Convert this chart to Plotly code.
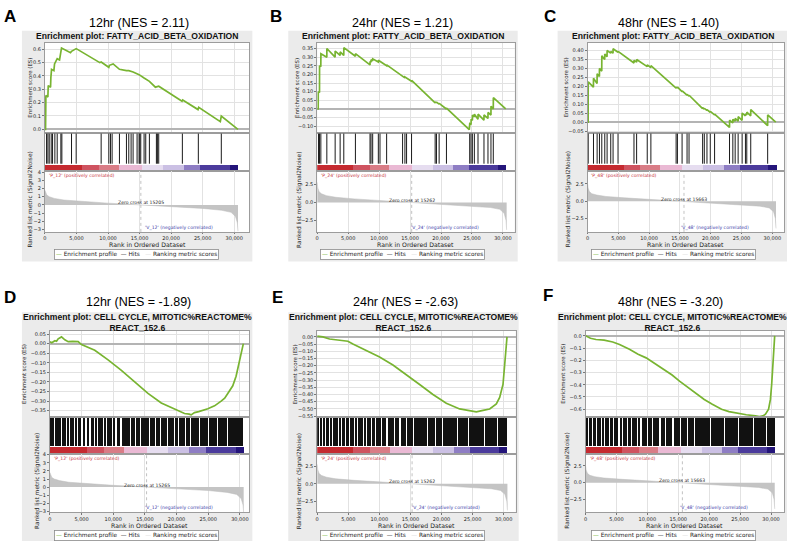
import plotly.graph_objects as go

W, H = 793, 546

# ------------------------------------------------------------------ data
panel_letters = ["A", "B", "C", "D", "E", "F"]
panel_titles = ["12hr (NES = 2.11)", "24hr (NES = 1.21)", "48hr (NES = 1.40)",
                "12hr (NES = -1.89)", "24hr (NES = -2.63)", "48hr (NES = -3.20)"]
plot_titles = ["Enrichment plot: FATTY_ACID_BETA_OXIDATION"] * 3 + \
              ["Enrichment plot: CELL CYCLE, MITOTIC%REACTOME%<br>REACT_152.6"] * 3
phenotypes = ["12", "24", "48", "12", "24", "48"]
zero_cross = [15205, 15262, 15663, 15265, 15262, 15663]

# running enrichment score (rank, ES)
es_A = [(0, 0), (105, 0.0), (158, 0.254), (475, 0.242), (527, 0.328), (897, 0.316), (949, 0.39),
        (1055, 0.45), (1424, 0.44), (1529, 0.49), (1951, 0.53), (2320, 0.52), (2637, 0.61),
        (4061, 0.575), (4219, 0.585), (4958, 0.605), (8702, 0.50), (8913, 0.505), (10126, 0.465),
        (10232, 0.48), (10812, 0.49), (11814, 0.45), (12921, 0.44), (13290, 0.44), (13976, 0.43),
        (14925, 0.41), (15717, 0.385), (16560, 0.36), (17510, 0.316), (18037, 0.323),
        (21729, 0.21), (21834, 0.22), (24260, 0.148), (24366, 0.165), (27794, 0.058),
        (27952, 0.10), (30589, 0.0)]
es_B = [(0, 0), (160, 0.0), (170, 0.10), (370, 0.095), (380, 0.25), (580, 0.245), (600, 0.32),
        (1550, 0.30), (1560, 0.35), (2890, 0.30), (2900, 0.335), (3700, 0.31), (3710, 0.33),
        (4290, 0.31), (4300, 0.355), (6170, 0.305), (6180, 0.32), (8530, 0.255), (8540, 0.275),
        (8690, 0.27), (8700, 0.285), (8960, 0.278), (8970, 0.29), (9870, 0.272), (9880, 0.282),
        (10140, 0.275), (10150, 0.28), (11210, 0.25), (11220, 0.255), (13790, 0.185),
        (13800, 0.19), (14160, 0.18), (14170, 0.185), (14430, 0.178), (14440, 0.182),
        (15240, 0.16), (15250, 0.165), (19050, 0.035), (19060, 0.04), (19260, 0.035),
        (19270, 0.04), (19690, 0.028), (19700, 0.032), (20870, 0.0), (20880, 0.005),
        (24560, -0.12), (24640, -0.085), (24850, -0.09), (24860, -0.06), (25070, -0.065),
        (25080, -0.035), (25380, -0.045), (25390, -0.03), (25970, -0.06), (25980, -0.03),
        (26930, -0.065), (26940, -0.035), (27580, -0.055), (27590, -0.02), (28060, -0.035),
        (28070, 0.015), (28440, 0.0), (28450, 0.065), (30450, 0.0)]
es_C = [(0, 0), (100, 0.0), (110, 0.225), (960, 0.195), (970, 0.245), (1550, 0.215), (1560, 0.27),
        (1930, 0.255), (1940, 0.30), (2310, 0.285), (2320, 0.37), (2790, 0.35), (2800, 0.38),
        (3170, 0.365), (3180, 0.40), (3760, 0.385), (3770, 0.395), (4140, 0.385), (4150, 0.41),
        (4950, 0.39), (4960, 0.395), (7540, 0.33), (7550, 0.345), (7970, 0.335), (7980, 0.35),
        (9690, 0.31), (9700, 0.32), (10280, 0.305), (10290, 0.315), (14380, 0.19),
        (14390, 0.195), (14590, 0.19), (14600, 0.195), (15350, 0.17), (15360, 0.175),
        (16150, 0.15), (16160, 0.155), (16480, 0.145), (16490, 0.15), (18680, 0.075),
        (18690, 0.08), (18950, 0.072), (18960, 0.077), (19380, 0.065), (19390, 0.07),
        (19920, 0.055), (19930, 0.06), (20620, 0.04), (20630, 0.045), (23050, -0.03),
        (23060, 0.01), (23590, -0.005), (23600, 0.015), (23960, 0.005), (23970, 0.02),
        (24450, 0.005), (24460, 0.03), (25090, 0.01), (25100, 0.05), (25630, 0.035),
        (25640, 0.045), (25850, 0.04), (25860, 0.055), (26490, 0.035), (26500, 0.07),
        (29240, -0.02), (29250, 0.04), (30560, 0.0)]
es_D = [(0, 0.01), (300, 0.005), (790, 0.015), (1050, 0.012), (1310, 0.025), (1840, 0.035),
        (2360, 0.02), (2890, 0.01), (3600, 0.012), (4460, 0.01), (4990, -0.005), (7090, -0.035),
        (9190, -0.085), (11290, -0.14), (13390, -0.20), (15490, -0.26), (17590, -0.31),
        (19690, -0.34), (21260, -0.365), (22000, -0.368), (22310, -0.372), (22840, -0.36),
        (23500, -0.355), (24940, -0.34), (26000, -0.325), (27040, -0.30), (27600, -0.285),
        (28090, -0.26), (28880, -0.22), (29400, -0.17), (29900, -0.09), (30300, -0.03),
        (30550, 0.0)]
es_E = [(0, 0.005), (912, 0.0), (1985, -0.015), (3059, -0.02), (4132, -0.03), (4937, -0.03),
        (5742, -0.05), (7888, -0.095), (10034, -0.14), (12181, -0.195), (14327, -0.26),
        (16474, -0.33), (18620, -0.40), (20766, -0.46), (22913, -0.50), (24523, -0.515),
        (25596, -0.52), (26669, -0.51), (27742, -0.50), (28815, -0.465), (29352, -0.42),
        (29888, -0.33), (30157, -0.22), (30318, -0.11), (30533, 0.0)]
es_F = [(0, 0.0), (800, -0.02), (1700, -0.03), (3000, -0.035), (4400, -0.05), (5500, -0.07),
        (7100, -0.11), (8500, -0.15), (9800, -0.18), (11000, -0.22), (12500, -0.27),
        (14000, -0.32), (15200, -0.37), (16500, -0.42), (17800, -0.47), (19200, -0.52),
        (20500, -0.56), (22000, -0.60), (23200, -0.62), (24600, -0.635), (26000, -0.645),
        (27500, -0.655), (28100, -0.66), (28700, -0.655), (29100, -0.64), (29600, -0.60),
        (29900, -0.52), (30100, -0.40), (30300, -0.25), (30450, -0.10), (30590, 0.0)]

# gene-set hits (ranks) for the small sets
hits_A = [264, 475, 686, 1002, 1213, 1582, 1951, 2532, 2690, 4219, 4958, 8913, 10126, 10390,
          10653, 11814, 12921, 13290, 13660, 13976, 14609, 14925, 15031, 15189, 15717, 15980,
          16560, 17668, 17826, 18037, 21782, 24313, 27952]
hits_B = [215, 376, 590, 1556, 2897, 3703, 4293, 6171, 8532, 8693, 8961, 9873, 10141, 11215,
          13791, 14166, 14435, 15240, 19049, 19264, 19694, 20874, 24630, 24845, 25060, 25382,
          25972, 26938, 27582, 28065, 28441]
hits_C = [108, 970, 1562, 1939, 2316, 2801, 3178, 3770, 4147, 4955, 7540, 7971, 9695, 10287,
          14381, 14596, 15350, 16158, 16481, 18689, 18959, 19390, 19928, 20628, 23052, 23591,
          23968, 24452, 25099, 25638, 25853, 26499, 29246]
# dense hit blocks (start, end) for the large cell-cycle set
hits_D = [(0, 200), (450, 650), (850, 1350), (1550, 1650), (1950, 2450), (2750, 2850),
          (3150, 3750), (4050, 4150), (4450, 4950), (5350, 5500), (5850, 6150), (6450, 6950),
          (7250, 7350), (7650, 8350), (8650, 8750), (9050, 9750), (10050, 10250), (10550, 11050),
          (11300, 12700), (12850, 13450), (13600, 14250), (14400, 15650), (15850, 16550),
          (16700, 17350), (17500, 18450), (18600, 19550), (19700, 20250), (20400, 21350),
          (21500, 22150), (22300, 23550), (23700, 25000), (25100, 26350), (26450, 28000),
          (28100, 29450), (29550, 30550)]
hits_E = [(0, 250), (450, 850), (1000, 1200), (1450, 1950), (2200, 2400), (2650, 3350),
          (3600, 3750), (4050, 4550), (4800, 5100), (5350, 5950), (6200, 6350), (6650, 7350),
          (7600, 7750), (8050, 8750), (9000, 9300), (9550, 10250), (10450, 11150), (11350, 12350),
          (12550, 13250), (13450, 14350), (14500, 15450), (15650, 16650), (16800, 17650),
          (17800, 18950), (19100, 20050), (20200, 22450), (22600, 24350), (24500, 26850),
          (27000, 28950), (29100, 30550)]
hits_F = [(0, 300), (550, 900), (1150, 1550), (1800, 2350), (2600, 2800), (3050, 3750),
          (4000, 4300), (4550, 5250), (5500, 5700), (5950, 6650), (6900, 7200), (7450, 8250),
          (8500, 8800), (9050, 9850), (10050, 10650), (10850, 11850), (12050, 12750),
          (12950, 13950), (14150, 15150), (15350, 16350), (16550, 17450), (17650, 18850),
          (19000, 20050), (20250, 22250), (22400, 24550), (24700, 26950), (27100, 29050),
          (29200, 30600)]

# ranked list metric (rank, signal2noise)
metric_12 = [(0, 1.8), (100, 1.5), (300, 1.2), (700, 1.0), (1500, 0.8), (3000, 0.6), (6000, 0.4),
             (10000, 0.22), (15205, 0.0), (20000, -0.2), (25000, -0.42), (28000, -0.65),
             (29500, -0.9), (30200, -1.4), (30500, -2.2), (30600, -3.2)]
metric_24 = [(0, 2.8), (100, 2.0), (300, 1.5), (700, 1.2), (1500, 0.95), (3000, 0.72), (6000, 0.5),
             (10000, 0.3), (15262, 0.0), (20000, -0.25), (25000, -0.5), (28000, -0.7),
             (29500, -0.95), (30200, -1.5), (30500, -2.5), (30600, -3.8)]
metric_48 = [(0, 2.6), (100, 1.9), (300, 1.4), (700, 1.1), (1500, 0.9), (3000, 0.7), (6000, 0.5),
             (10000, 0.3), (15663, 0.0), (20000, -0.25), (25000, -0.5), (28000, -0.7),
             (29500, -0.95), (30200, -1.5), (30500, -2.5), (30600, -3.9)]

# colour bar of the ranked list
cb_edges = [0, 5800, 8500, 11700, 15300, 18700, 22000, 24600, 29300, 30600]
cb_colors = ["#c52a30", "#cf5360", "#d97c86", "#eab9d4", "#e6ddf0", "#cbc0e4", "#8e7dc4",
             "#4b3b9c", "#24157a"]

x_tick_vals = [0, 5000, 10000, 15000, 20000, 25000, 30000]
x_tick_text = ["0", "5,000", "10,000", "15,000", "20,000", "25,000", "30,000"]
es_ticks = [[0.0, 0.1, 0.2, 0.3, 0.4, 0.5, 0.6],
            [-0.10, -0.05, 0.0, 0.05, 0.10, 0.15, 0.20, 0.25, 0.30, 0.35],
            [-0.05, 0.0, 0.05, 0.10, 0.15, 0.20, 0.25, 0.30, 0.35, 0.40],
            [-0.35, -0.30, -0.25, -0.20, -0.15, -0.10, -0.05, 0.0, 0.05],
            [-0.55, -0.50, -0.45, -0.40, -0.35, -0.30, -0.25, -0.20, -0.15, -0.10, -0.05, 0.0],
            [-0.6, -0.5, -0.4, -0.3, -0.2, -0.1, 0.0]]
es_fmt = [".1f", ".2f", ".2f", ".2f", ".2f", ".1f"]
metric_ticks_int = [-3, -2, -1, 0, 1, 2, 3, 4]
metric_ticks_half = [-2.5, 0.0, 2.5]

# ------------------------------------------------------------------ layout geometry (px)
TOP = dict(by0=28, by1=261, es=(40, 131), hits=(131, 170), met=(170, 231), leg=254, xl=244)
BOT = dict(by0=312, by1=543, es=(331, 418), hits=(418, 455), met=(455, 514), leg=537, xl=527)
panels = [
    dict(row=TOP, bx=(20, 251), px=(43, 248), xmax=32400, es_rng=(-0.026, 0.65),
         met_rng=(-3.28, 4.08), letter=(8, 14), title=(137, 20.5), ptitle=(135.5, 33.5),
         es_t=28, met_t=29, leg_x=134.5),
    dict(row=TOP, bx=(287, 517), px=(316, 514), xmax=31900, es_rng=(-0.138, 0.384),
         met_rng=(-4.07, 4.3), letter=(275, 14), title=(402, 20.5), ptitle=(402.5, 33.5),
         es_t=295, met_t=298, leg_x=402),
    dict(row=TOP, bx=(557, 787), px=(587, 784), xmax=31900, es_rng=(-0.06, 0.444),
         met_rng=(-4.4, 4.3), letter=(549, 14), title=(668, 20.5), ptitle=(672.5, 33.5),
         es_t=565, met_t=568, leg_x=673),
    dict(row=BOT, bx=(20, 251), px=(48, 248), xmax=31500, es_rng=(-0.384, 0.066),
         met_rng=(-3.1, 4.1), letter=(8, 297), title=(137, 301.5), ptitle=(135.5, 322),
         es_t=22, met_t=35, leg_x=134.5),
    dict(row=BOT, bx=(287, 518), px=(316, 515), xmax=31930, es_rng=(-0.557, 0.041),
         met_rng=(-4.07, 4.3), letter=(276, 297), title=(405, 301.5), ptitle=(402.5, 322),
         es_t=294, met_t=298, leg_x=402),
    dict(row=BOT, bx=(557, 787), px=(585, 784), xmax=32100, es_rng=(-0.665, 0.04),
         met_rng=(-4.4, 4.3), letter=(547, 295), title=(670, 301.5), ptitle=(672.5, 322),
         es_t=562, met_t=567, leg_x=673),
]

es_data = [es_A, es_B, es_C, es_D, es_E, es_F]
hit_lines = [hits_A, hits_B, hits_C, None, None, None]
hit_blocks = [None, None, None, hits_D, hits_E, hits_F]
metric_data = [metric_12, metric_24, metric_48, metric_12, metric_24, metric_48]

GREEN = "#78b431"
FONT_IN = "DejaVu Sans"
FONT_T = "Liberation Sans"
GRID = "#e2e2e2"
BORDER = "#9c9c9c"


def fx(p):
    return p / W


def fy(p):
    return 1 - p / H


fig = go.Figure()
layout = dict(width=W, height=H, margin=dict(l=0, r=0, t=0, b=0), autosize=False,
              paper_bgcolor="white", plot_bgcolor="rgba(0,0,0,0)", showlegend=False,
              barmode="overlay", bargap=0)
shapes, annotations = [], []

for i, p in enumerate(panels):
    row = p["row"]
    # gray panel background
    shapes.append(dict(type="rect", xref="paper", yref="paper", layer="below",
                       x0=fx(p["bx"][0]), x1=fx(p["bx"][1]), y0=fy(row["by1"]), y1=fy(row["by0"]),
                       fillcolor="#ebebeb", line=dict(width=0)))
    ids = [i * 3 + k + 1 for k in range(3)]
    names = [("x" if n == 1 else f"x{n}", "y" if n == 1 else f"y{n}") for n in ids]
    bands = [row["es"], row["hits"], row["met"]]
    for k, (xa, ya) in enumerate(names):
        xkey = "xaxis" if xa == "x" else "xaxis" + xa[1:]
        ykey = "yaxis" if ya == "y" else "yaxis" + ya[1:]
        y0, y1 = bands[k]
        shapes.append(dict(type="rect", xref=f"{xa} domain", yref=f"{ya} domain", layer="below",
                           x0=0, x1=1, y0=0, y1=1, fillcolor="white", line=dict(width=0)))
        xd = dict(domain=[fx(p["px"][0]), fx(p["px"][1])], anchor=ya, range=[0, p["xmax"]],
                  showline=True, mirror=True, linecolor=BORDER, linewidth=0.8, zeroline=False,
                  showgrid=(k != 1), gridcolor=GRID, gridwidth=0.6, tickvals=x_tick_vals,
                  ticktext=x_tick_text, showticklabels=(k == 2), ticks="outside" if k == 2 else "",
                  ticklen=1.5, tickcolor="#777", tickfont=dict(family=FONT_IN, size=5, color="#222"))
        yd = dict(domain=[fy(y1), fy(y0)], anchor=xa, showline=True, mirror=True,
                  linecolor=BORDER, linewidth=0.8, tickfont=dict(family=FONT_IN, size=5, color="#222"),
                  ticks="outside", ticklen=2, tickcolor="#777")
        if k == 0:
            yd.update(range=list(p["es_rng"]), tickvals=es_ticks[i], tickformat=es_fmt[i],
                      showgrid=True, gridcolor=GRID, gridwidth=0.6, zeroline=True,
                      zerolinecolor="#b4b4b4", zerolinewidth=1.8)
        elif k == 1:
            yd.update(range=[0, 1], showticklabels=False, ticks="", showgrid=False, zeroline=False)
        else:
            mt = metric_ticks_int if i in (0, 3) else metric_ticks_half
            yd.update(range=list(p["met_rng"]), tickvals=mt,
                      tickformat="d" if i in (0, 3) else ".1f", showgrid=False, zeroline=False)
        layout[xkey] = xd
        layout[ykey] = yd

    (xa0, ya0), (xa1, ya1), (xa2, ya2) = names
    # ES curve
    er = [a for a, b in es_data[i]]
    ev = [b for a, b in es_data[i]]
    fig.add_trace(go.Scatter(x=er, y=ev, mode="lines", line=dict(color=GREEN, width=1.7),
                             xaxis=xa0, yaxis=ya0, hoverinfo="skip"))
    # colour bar
    mids = [(cb_edges[j] + cb_edges[j + 1]) / 2 for j in range(len(cb_colors))]
    wids = [cb_edges[j + 1] - cb_edges[j] for j in range(len(cb_colors))]
    cbh = 0.18 if row is TOP else 0.19
    fig.add_trace(go.Bar(x=mids, y=[cbh] * len(mids), width=wids, base=[0] * len(mids),
                         marker=dict(color=cb_colors, line=dict(width=0)),
                         xaxis=xa1, yaxis=ya1, hoverinfo="skip"))
    # hits
    if hit_lines[i] is not None:
        hx, hy = [], []
        for h in hit_lines[i]:
            hx += [h, h, None]
            hy += [cbh + 0.02, 0.98, None]
        fig.add_trace(go.Scatter(x=hx, y=hy, mode="lines", line=dict(color="#1a1a1a", width=1),
                                 xaxis=xa1, yaxis=ya1, hoverinfo="skip"))
    else:
        bl = hit_blocks[i]
        fig.add_trace(go.Bar(x=[(s + e) / 2 for s, e in bl], width=[e - s for s, e in bl],
                             y=[0.98 - cbh - 0.02] * len(bl), base=[cbh + 0.02] * len(bl),
                             marker=dict(color="#111111", line=dict(width=0)),
                             xaxis=xa1, yaxis=ya1, hoverinfo="skip"))
    # ranked list metric
    mr = [a for a, b in metric_data[i]]
    mv = [b for a, b in metric_data[i]]
    fig.add_trace(go.Scatter(x=mr, y=mv, mode="lines", fill="tozeroy", fillcolor="#c4c4c4",
                             line=dict(color="#bdbdbd", width=0.5), xaxis=xa2, yaxis=ya2,
                             hoverinfo="skip"))
    zc = zero_cross[i]
    fig.add_trace(go.Scatter(x=[zc, zc], y=list(p["met_rng"]), mode="lines",
                             line=dict(color="#a8a8a8", width=0.7, dash="dot"),
                             xaxis=xa2, yaxis=ya2, hoverinfo="skip"))
    ph = phenotypes[i]
    annotations += [
        dict(text=f"'P_{ph}' (positively correlated)", xref=f"{xa2} domain", yref=f"{ya2} domain",
             x=0.01, y=1.0, xanchor="left", yanchor="top", showarrow=False,
             font=dict(family=FONT_IN, size=4.6, color="#c8323c")),
        dict(text=f"'V_{ph}' (negatively correlated)", xref=f"{xa2} domain", yref=f"{ya2} domain",
             x=0.83, y=0.07, xanchor="right", yanchor="middle", showarrow=False,
             font=dict(family=FONT_IN, size=4.6, color="#3c3ca8")),
        dict(text=f"Zero cross at {zc}", xref=xa2, yref=ya2, x=zc, y=0, yshift=2,
             xanchor="center", yanchor="middle", showarrow=False,
             font=dict(family=FONT_IN, size=4.6, color="#222")),
        dict(text="Enrichment score (ES)", xref="paper", yref="paper", x=fx(p["es_t"]),
             y=fy((row["es"][0] + row["es"][1]) / 2), textangle=-90, showarrow=False,
             xanchor="center", yanchor="middle", font=dict(family=FONT_IN, size=5.4, color="#222")),
        dict(text="Ranked list metric (Signal2Noise)", xref="paper", yref="paper", x=fx(p["met_t"]),
             y=fy((row["met"][0] + row["met"][1]) / 2 - 2), textangle=-90, showarrow=False,
             xanchor="center", yanchor="middle", font=dict(family=FONT_IN, size=5.8, color="#222")),
        dict(text="Rank in Ordered Dataset", xref="paper", yref="paper",
             x=fx((p["px"][0] + p["px"][1]) / 2), y=fy(row["xl"]), showarrow=False,
             xanchor="center", yanchor="middle", font=dict(family=FONT_IN, size=6.2, color="#222")),
        dict(text=plot_titles[i], xref="paper", yref="paper", x=fx(p["ptitle"][0]),
             y=fy(p["ptitle"][1]), showarrow=False, xanchor="center", yanchor="middle",
             font=dict(family=FONT_T, size=8.6, color="#111"), align="center"),
        dict(text=panel_titles[i], xref="paper", yref="paper", x=fx(p["title"][0]),
             y=fy(p["title"][1]), showarrow=False, xanchor="center", yanchor="middle",
             font=dict(family=FONT_T, size=12.5, color="#000")),
        dict(text=f"<b>{panel_letters[i]}</b>", xref="paper", yref="paper", x=fx(p["letter"][0]),
             y=fy(p["letter"][1]), showarrow=False, xanchor="center", yanchor="middle",
             font=dict(family=FONT_T, size=17, color="#000")),
        dict(text=(f'<span style="color:{GREEN}">—</span> Enrichment profile  '
                   '<span style="color:#333">—</span> Hits   '
                   '<span style="color:#dcdcdc">—</span> Ranking metric scores'),
             xref="paper", yref="paper", x=fx(p["leg_x"]), y=fy(row["leg"]), showarrow=False,
             xanchor="center", yanchor="middle", bgcolor="white", bordercolor="#8a8a8a",
             borderwidth=0.8, borderpad=1.2, font=dict(family=FONT_IN, size=5.8, color="#222")),
    ]

# bold gene-set titles
for a in annotations:
    if a["text"].startswith("Enrichment plot"):
        a["text"] = "<b>" + a["text"].replace("<br>", "</b><br><b>") + "</b>"

layout["shapes"] = shapes
layout["annotations"] = annotations
fig.update_layout(**layout)
fig.write_html("out.html", config={"displayModeBar": False},
               post_script="document.body.style.margin='0px';")
